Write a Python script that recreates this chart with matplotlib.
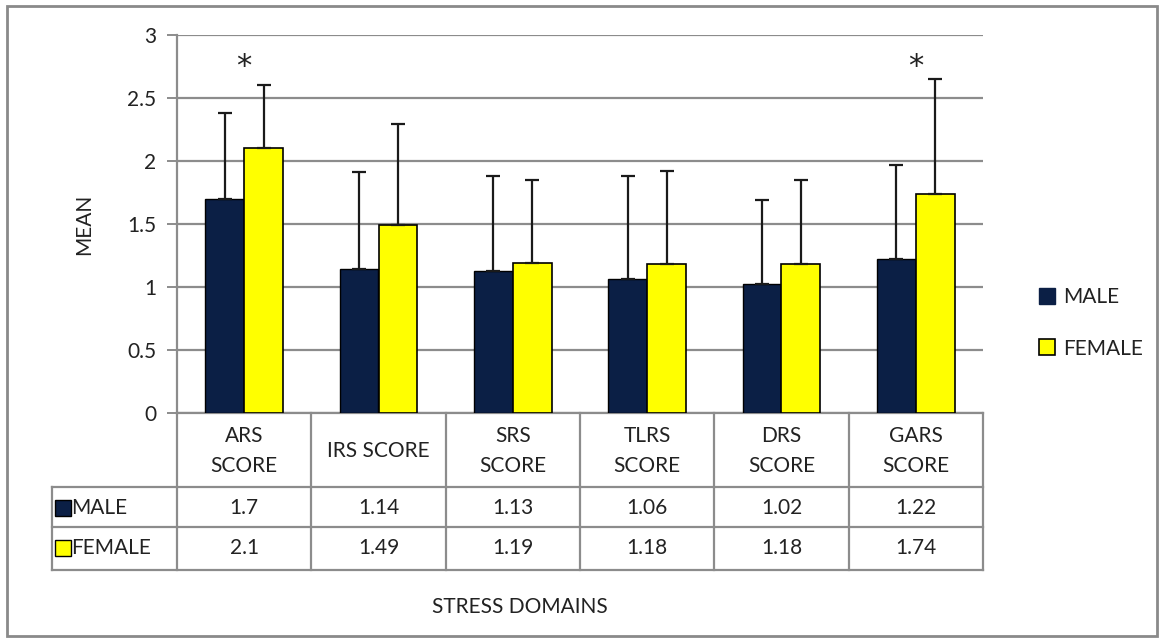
import matplotlib
matplotlib.use("Agg")
import matplotlib.pyplot as plt
import matplotlib.transforms as mtransforms
from matplotlib.patches import Patch, Rectangle
import numpy as np

plt.rcParams['font.family'] = ['Lato', 'DejaVu Sans']

# data
domains = ['ARS\nSCORE', 'IRS SCORE', 'SRS\nSCORE', 'TLRS\nSCORE', 'DRS\nSCORE', 'GARS\nSCORE']
male_mean = [1.7, 1.14, 1.13, 1.06, 1.02, 1.22]
female_mean = [2.1, 1.49, 1.19, 1.18, 1.18, 1.74]
male_sd = [0.68, 0.77, 0.75, 0.82, 0.67, 0.75]
female_sd = [0.50, 0.80, 0.66, 0.74, 0.67, 0.91]
significant = [0, 5]
star_y = 2.75

male_color = '#0b1f45'
female_color = '#ffff00'
line_gray = '#8c8c8c'
text_color = '#222222'
fs = 15

W, H = 1159, 640
fig = plt.figure(figsize=(W / 100, H / 100), dpi=100)

# plot area in pixel terms
left, right, top, bottom = 177, 983, 35, 413
ax = fig.add_axes([left / W, 1 - bottom / H, (right - left) / W, (bottom - top) / H])

x = np.arange(len(domains))
bw = 0.29
ax.bar(x - bw / 2, male_mean, bw, color=male_color, edgecolor='black', linewidth=1.0, zorder=3)
ax.bar(x + bw / 2, female_mean, bw, color=female_color, edgecolor='black', linewidth=1.2, zorder=3)
ax.errorbar(x - bw / 2, male_mean, yerr=[np.zeros(len(x)), male_sd], fmt='none',
            ecolor='#1a1a1a', elinewidth=1.6, capsize=5, capthick=1.6, zorder=4)
ax.errorbar(x + bw / 2, female_mean, yerr=[np.zeros(len(x)), female_sd], fmt='none',
            ecolor='#1a1a1a', elinewidth=1.6, capsize=5, capthick=1.6, zorder=4)

for i in significant:
    ax.text(x[i], star_y, '*', ha='center', va='center', fontsize=22, color=text_color,
            family='DejaVu Sans')

ax.set_xlim(-0.5, len(x) - 0.5)
ax.set_ylim(0, 3)
ax.set_yticks(np.arange(0, 3.01, 0.5))
ax.set_yticklabels(['0', '0.5', '1', '1.5', '2', '2.5', '3'])
ax.yaxis.grid(True, color=line_gray, linewidth=1.6, zorder=0)
ax.set_axisbelow(True)
ax.tick_params(axis='y', direction='out', length=7, width=1.4, color=line_gray,
               labelsize=fs, labelcolor=text_color, pad=8)
ax.set_xticks([])
for s in ['top', 'right', 'bottom']:
    ax.spines[s].set_visible(False)
ax.spines['left'].set_color(line_gray)
ax.spines['left'].set_linewidth(1.6)
ax.set_ylabel('MEAN', fontsize=fs, color=text_color, labelpad=24)

# data table under the bars
tr = mtransforms.blended_transform_factory(ax.transData, ax.transAxes)
ph = bottom - top
def fy(py):
    return (bottom - py) / ph

label_left = -0.5 - (left - 52) / ((right - left) / len(x))
y_rows = [fy(413), fy(487), fy(527), fy(570)]
lk = dict(color=line_gray, linewidth=1.6, transform=tr, clip_on=False)
ax.plot([-0.5, len(x) - 0.5], [y_rows[0]] * 2, **lk)
for yy in y_rows[1:]:
    ax.plot([label_left, len(x) - 0.5], [yy] * 2, **lk)
ax.plot([label_left] * 2, [y_rows[1], y_rows[3]], **lk)
for k in range(len(x) + 1):
    ax.plot([k - 0.5] * 2, [y_rows[0], y_rows[3]], **lk)

tk = dict(ha='center', va='center', fontsize=fs, color=text_color, transform=tr,
          linespacing=1.65)
for i, name in enumerate(domains):
    ax.text(x[i], fy(451), name, **tk)
    ax.text(x[i], fy(508), f'{male_mean[i]:g}', **tk)
    ax.text(x[i], fy(548), f'{female_mean[i]:g}', **tk)

unit = (right - left) / len(x)
for yy, lab, fc in [(fy(508), 'MALE', male_color), (fy(548), 'FEMALE', female_color)]:
    ax.plot([label_left + 11 / unit], [yy], marker='s', markersize=11, color=fc,
            markeredgecolor='black', markeredgewidth=1.0, transform=tr, clip_on=False)
    ax.text(label_left + 19 / unit, yy, lab, ha='left', va='center', fontsize=fs,
            color=text_color, transform=tr)

fig.text(520 / W, 1 - 607 / H, 'STRESS DOMAINS', ha='center', va='center',
         fontsize=fs, color=text_color)

# legend on the right
handles = [Patch(facecolor=male_color, edgecolor=male_color, label='MALE'),
           Patch(facecolor=female_color, edgecolor='black', linewidth=1.2, label='FEMALE')]
fig.legend(handles=handles, loc='center left', bbox_to_anchor=(1020 / W, 1 - 323 / H),
           frameon=False, fontsize=fs, handlelength=0.8, handleheight=0.8,
           handletextpad=0.35, labelspacing=1.5, labelcolor=text_color)

# chart border
fig.patches.append(Rectangle((7 / W, 4 / H), 1150 / W, 630 / H, transform=fig.transFigure,
                             fill=False, edgecolor='#8a8a8a', linewidth=2))

fig.savefig('out.png', dpi=100, facecolor='white')
